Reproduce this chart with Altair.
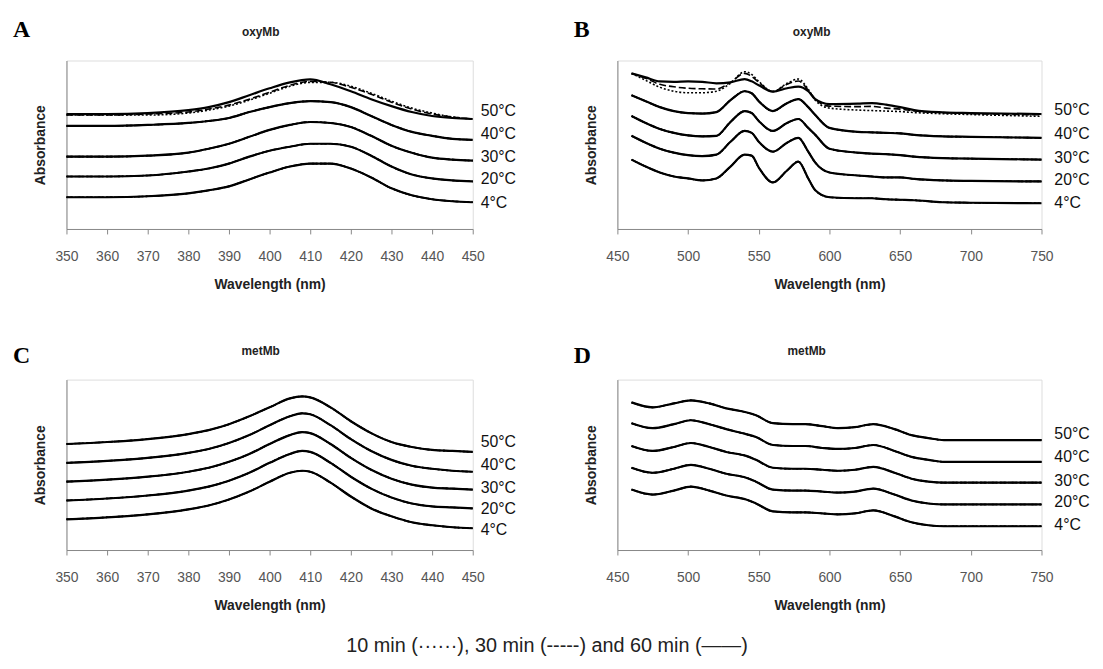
import altair as alt
import pandas as pd

TEMPS = ["4°C", "20°C", "30°C", "40°C", "50°C"]

# ---------- Panel A : oxyMb, Soret region ----------
A_WL = [350, 360, 370, 380, 385, 390, 395, 400, 405, 410, 415, 420, 425, 430, 435, 440, 445, 450]
A_4 = [32, 32, 33, 36, 39, 43, 50, 57, 63, 66, 66, 61, 52, 41, 34, 30, 28, 27]
A_20 = [53, 53, 54, 58, 61, 66, 73, 79, 83, 86, 86, 83, 74, 63, 55, 51, 49, 48]
A_30 = [73, 73, 74, 77, 81, 86, 93, 100, 105, 108, 107, 103, 94, 84, 77, 72, 70, 69]
A_40 = [104, 104, 105, 107, 109, 112, 118, 123, 127, 129, 128, 123, 114, 105, 98, 94, 91, 90]
A_50_60 = [116, 116, 117, 120, 123, 128, 135, 142, 148, 151, 146, 139, 131, 124, 118, 114, 112, 111]
A_50_30 = [115, 115, 116, 118, 121, 125, 131, 138, 145, 149, 148, 143, 136, 128, 121, 116, 113, 111]
A_50_10 = [115, 115, 115, 117, 120, 124, 130, 137, 144, 148, 148, 144, 137, 129, 122, 117, 113, 111]
A_LABEL_V = [26, 50, 73, 96, 119]

# ---------- Panel B : oxyMb, visible region ----------
B_WL = [460, 470, 480, 490, 500, 510, 520, 530, 540, 545, 550, 560, 570, 578, 585, 590, 600,
        620, 630, 640, 650, 660, 680, 700, 750]
B_4 = [70, 63, 57, 53, 51, 49, 51, 63, 75, 74, 62, 47, 59, 68, 51, 39, 32, 31, 31, 30, 29.5, 29, 27, 26.5, 26]
B_20 = [94, 87, 81, 77, 74.5, 73.5, 75, 88, 99, 97, 88, 78, 87, 92, 78, 67, 57, 54, 53, 52, 52, 50.5, 49, 48.5, 48]
B_30 = [114, 107, 101, 97, 94.5, 93.5, 94, 108, 119, 117, 109, 99, 107, 111, 102, 95, 81, 77, 76, 75.5, 74.5, 73, 71.5, 71, 70]
B_40 = [135, 129, 123, 119, 117, 116.5, 118, 130, 139, 137, 129, 119, 127, 131, 123, 115, 102, 98, 97.5, 97, 96.5, 95, 93.5, 93, 92]
B_50_60 = [157, 153, 149, 148.5, 149, 148.5, 147, 148, 151.3, 149, 145, 138.7, 142, 143.7, 139, 131, 126, 126.5, 127, 125.5, 123, 120, 117.7, 117, 116]
B_50_30 = [157, 152, 146, 143.5, 142, 141.5, 141.3, 148, 157, 154, 148, 138.7, 146, 149.3, 140, 131, 124, 123.5, 123.7, 122, 121, 119, 117.5, 116.5, 115.3]
B_50_10 = [157, 150, 143, 139, 137.5, 137.5, 139, 147, 158.7, 156, 149, 138.7, 147, 151.3, 141, 130, 122, 120, 119.5, 119, 118.5, 117.5, 116.3, 115.5, 113.7]
B_LABEL_V = [26, 49, 72, 96, 120]

# ---------- Panel C : metMb, Soret region ----------
C_WL = [350, 360, 370, 380, 385, 390, 395, 400, 405, 408, 410, 415, 420, 425, 430, 435, 440, 445, 450]
C_4 = [31, 33, 36, 41, 45, 51, 59, 69, 78, 80, 79, 68, 54, 42, 34, 28, 25, 23, 22]
C_20 = [50, 52, 55, 60, 64, 70, 78, 88, 97, 100, 99, 88, 74, 62, 53, 47, 44, 43, 42]
C_30 = [69, 71, 74, 79, 83, 89, 97, 107, 116, 119, 118, 107, 93, 81, 72, 66, 63, 62, 61]
C_40 = [88, 90, 93, 98, 102, 108, 116, 126, 135, 138, 137, 126, 112, 100, 91, 85, 82, 80, 79]
C_50 = [107, 109, 112, 117, 121, 127, 135, 144, 153, 155, 154, 144, 130, 118, 109, 104, 101, 100, 99]
C_LABEL_V = [20, 41, 63, 86, 109]

# ---------- Panel D : metMb, visible region ----------
D_WL = [460, 475, 490, 502, 515, 527, 541, 548, 560, 574, 583, 595, 606, 618, 631, 646, 658, 670, 681, 750]
D_4 = [61, 56, 60, 64, 60, 55, 51, 47, 39, 38, 38, 37, 36, 37, 40, 34, 28, 25, 24, 24]
D_20 = [83, 78, 82, 86, 82, 77, 73, 69, 61, 60, 60, 59, 58, 59, 62, 56, 50, 47, 46, 46]
D_30 = [105, 100, 104, 108, 104, 99, 95, 91, 83, 82, 82, 81, 80, 81, 84, 78, 72, 69, 68, 68]
D_40 = [128, 123, 127, 131, 127, 122, 117, 114, 106, 105, 105, 103, 102, 103, 106, 100, 94, 91, 89, 89]
D_50 = [149, 144, 148, 151, 148, 143, 139, 136, 128, 127, 127, 125, 123, 124, 127, 122, 116, 113, 111, 111]
D_LABEL_V = [25, 48, 70, 94, 117]

TICKS_SORET = [350, 360, 370, 380, 390, 400, 410, 420, 430, 440, 450]
TICKS_VIS = [450, 500, 550, 600, 650, 700, 750]
CAPTION = "10 min (······), 30 min (-----) and 60 min (——)"

W_LEFT, W_RIGHT = 410, 428
H_TOP, H_BOT = 170, 172


def long_frame(wl, series):
    rows = []
    for temp, time, vals in series:
        for w, v in zip(wl, vals):
            rows.append({"wl": w, "v": v, "temp": temp, "time": time})
    return pd.DataFrame(rows)


def all_times(temp, vals):
    return [(temp, "10 min", vals), (temp, "30 min", vals), (temp, "60 min", vals)]


df_A = long_frame(A_WL, all_times("4°C", A_4) + all_times("20°C", A_20) + all_times("30°C", A_30)
                  + all_times("40°C", A_40)
                  + [("50°C", "10 min", A_50_10), ("50°C", "30 min", A_50_30), ("50°C", "60 min", A_50_60)])
df_B = long_frame(B_WL, all_times("4°C", B_4) + all_times("20°C", B_20) + all_times("30°C", B_30)
                  + all_times("40°C", B_40)
                  + [("50°C", "10 min", B_50_10), ("50°C", "30 min", B_50_30), ("50°C", "60 min", B_50_60)])
df_C = long_frame(C_WL, all_times("4°C", C_4) + all_times("20°C", C_20) + all_times("30°C", C_30)
                  + all_times("40°C", C_40) + all_times("50°C", C_50))
df_D = long_frame(D_WL, all_times("4°C", D_4) + all_times("20°C", D_20) + all_times("30°C", D_30)
                  + all_times("40°C", D_40) + all_times("50°C", D_50))

SANS = "Liberation Sans"


def panel(df, label_v, xdom, xticks, W, H, label_dx, letter, letter_xy, title, title_xy, caption=None):
    x = alt.X("wl:Q", scale=alt.Scale(domain=xdom, nice=False, zero=False),
              axis=alt.Axis(values=xticks, title="Wavelength (nm)", grid=False, tickSize=5,
                            tickColor="#888", domainColor="#888", labelColor="#555",
                            labelFont=SANS, labelFontSize=14, labelPadding=16, labelFlush=False,
                            titleFont=SANS, titleFontSize=14, titleFontWeight="bold",
                            titleColor="#222", titlePadding=14))
    y = alt.Y("v:Q", scale=alt.Scale(domain=[0, H], nice=False, zero=False),
              axis=alt.Axis(title="Absorbance", labels=False, ticks=False, grid=False,
                            domainColor="#888", titleFont=SANS, titleFontSize=14,
                            titleFontWeight="bold", titleColor="#222", titlePadding=19))
    base = alt.Chart(df)
    styles = [("10 min", dict(strokeDash=[2, 2], strokeWidth=1.6)),
              ("30 min", dict(strokeDash=[7, 3], strokeWidth=1.6)),
              ("60 min", dict(strokeWidth=2.2))]
    layers = []
    for tm, st in styles:
        layers.append(base.transform_filter(alt.datum.time == tm)
                      .mark_line(color="black", interpolate="monotone", **st)
                      .encode(x=x, y=y, detail="temp:N"))
    lab_df = pd.DataFrame({"temp": TEMPS, "v": label_v})
    layers.append(alt.Chart(lab_df).mark_text(align="left", baseline="middle", font=SANS,
                                              fontSize=16, color="#111")
                  .encode(x=alt.value(W + label_dx), y=y, text="temp:N"))
    layers.append(alt.Chart(pd.DataFrame({"t": [letter]}))
                  .mark_text(align="left", baseline="alphabetic", font="Liberation Serif",
                             fontWeight="bold", fontSize=24, color="black")
                  .encode(x=alt.value(letter_xy[0]), y=alt.value(letter_xy[1]), text="t:N"))
    layers.append(alt.Chart(pd.DataFrame({"t": [title]}))
                  .mark_text(align="center", baseline="middle", font=SANS,
                             fontWeight="bold", fontSize=12, color="#222")
                  .encode(x=alt.value(title_xy[0]), y=alt.value(title_xy[1]), text="t:N"))
    if caption:
        layers.append(alt.Chart(pd.DataFrame({"t": [caption]}))
                      .mark_text(align="center", baseline="middle", font=SANS,
                                 fontSize=20, color="#222")
                      .encode(x=alt.value(485), y=alt.value(H + 97), text="t:N"))
    return alt.layer(*layers).properties(width=W, height=H)


pA = panel(df_A, A_LABEL_V, [350, 450], TICKS_SORET, W_LEFT, H_TOP, 8, "A", (-54, -24), "oxyMb", (196, -29))
pB = panel(df_B, B_LABEL_V, [450, 750], TICKS_VIS, W_RIGHT, H_TOP, 13, "B", (-44, -24), "oxyMb", (196, -29))
pC = panel(df_C, C_LABEL_V, [350, 450], TICKS_SORET, W_LEFT, H_BOT, 8, "C", (-54, -17), "metMb", (196, -29),
           caption=CAPTION)
pD = panel(df_D, D_LABEL_V, [450, 750], TICKS_VIS, W_RIGHT, H_BOT, 13, "D", (-44, -17), "metMb", (191, -29))

chart = (alt.concat(pA, pB, pC, pD, columns=2, spacing={"row": 152, "column": 146}, bounds="flush")
         .properties(padding={"left": 4, "top": 6, "right": 4, "bottom": 4})
         .configure_view(stroke=None)
         .configure(background="white"))

chart.save("out.html", embed_options={"renderer": "svg", "actions": False})
